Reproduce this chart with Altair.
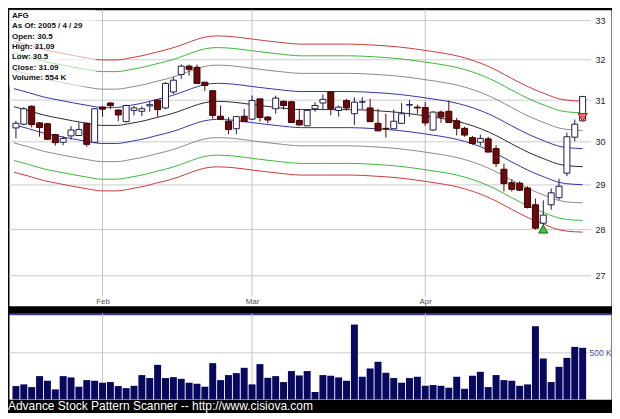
import altair as alt
import numpy as np
import pandas as pd

# ---------------- data ----------------
opens = [30.33, 30.42, 30.85, 30.45, 30.43, 30.17, 29.99, 30.14, 30.15, 30.44,
         29.99, 30.83, 30.93, 30.76, 30.48, 30.75, 30.73, 30.86, 31.00, 30.81,
         31.20, 31.63, 31.84, 31.81, 31.44, 31.23, 30.61, 30.49, 30.31, 30.61,
         30.54, 31.03, 30.59, 30.79, 30.97, 30.96, 30.51, 30.38, 30.79, 30.93,
         31.20, 30.75, 30.99, 30.67, 30.95, 30.81, 30.44, 30.32, 30.31, 30.44,
         30.88, 30.83, 30.82, 30.28, 30.71, 30.73, 30.50, 30.32, 30.10, 29.99,
         30.07, 29.84, 29.36, 29.05, 29.04, 28.93, 28.55, 28.14, 28.55, 28.71,
         29.27, 30.11, 30.50]
closes = [30.44, 30.79, 30.41, 30.34, 30.06, 29.98, 30.08, 30.28, 30.29, 29.94,
          30.79, 30.78, 30.87, 30.64, 30.87, 30.81, 30.79, 30.89, 30.77, 31.41,
          31.49, 31.84, 31.76, 31.41, 31.36, 30.63, 30.54, 30.29, 30.60, 30.48,
          30.99, 30.58, 30.52, 31.05, 30.87, 30.46, 30.40, 30.75, 30.87, 31.02,
          30.79, 30.83, 30.81, 30.95, 30.96, 30.48, 30.26, 30.31, 30.49, 30.67,
          30.89, 30.81, 30.45, 30.71, 30.59, 30.46, 30.32, 30.16, 29.96, 30.08,
          29.76, 29.49, 29.03, 28.90, 28.88, 28.49, 28.03, 28.32, 28.82, 28.97,
          30.12, 30.42, 31.09]
highs = [30.50, 30.83, 30.87, 30.47, 30.45, 30.19, 30.13, 30.37, 30.46, 30.46,
         30.80, 30.85, 30.95, 30.77, 30.89, 30.86, 30.85, 30.97, 31.02, 31.44,
         31.57, 31.88, 31.88, 31.88, 31.45, 31.25, 30.87, 30.59, 30.61, 30.79,
         31.11, 31.04, 30.61, 31.11, 30.99, 30.98, 30.79, 30.77, 30.95, 31.14,
         31.21, 30.87, 31.03, 31.07, 31.07, 31.03, 30.79, 30.67, 30.77, 30.93,
         31.00, 30.89, 30.95, 30.73, 30.75, 30.99, 30.57, 30.36, 30.14, 30.17,
         30.12, 29.92, 29.49, 29.13, 29.08, 28.97, 28.69, 28.65, 28.92, 29.14,
         30.22, 30.53, 31.09]
lows = [30.08, 30.39, 30.34, 30.12, 30.04, 29.91, 29.92, 30.05, 30.14, 29.88,
        29.98, 30.60, 30.78, 30.49, 30.46, 30.63, 30.61, 30.72, 30.60, 30.78,
        31.15, 31.52, 31.60, 31.40, 31.22, 30.55, 30.53, 30.18, 30.18, 30.47,
        30.52, 30.48, 30.44, 30.67, 30.77, 30.45, 30.39, 30.37, 30.72, 30.76,
        30.63, 30.60, 30.75, 30.40, 30.78, 30.47, 30.25, 30.10, 30.30, 30.42,
        30.60, 30.67, 30.38, 30.26, 30.45, 30.45, 30.15, 30.12, 29.93, 29.91,
        29.75, 29.41, 28.85, 28.85, 28.86, 28.47, 28.00, 28.10, 28.44, 28.66,
        29.20, 30.01, 30.50]
volumes_k = [143, 161, 132, 250, 200, 107, 250, 236, 136, 207,
             200, 179, 186, 143, 121, 146, 261, 229, 371, 229,
             239, 221, 179, 168, 136, 389, 207, 261, 282, 339,
             161, 379, 232, 250, 186, 304, 257, 304, 79, 261,
             254, 236, 200, 804, 243, 332, 404, 286, 229, 179,
             229, 243, 146, 154, 146, 125, 243, 114, 254, 296,
             132, 261, 207, 200, 146, 161, 786, 439, 186, 350,
             446, 564, 554]

# centre line of the envelope (trading-day index, price)
center_idx = [-0.25, 1.6, 3.5, 5.3, 7.2, 9.0, 10.9, 12.8, 14.6, 16.5,
              17.7, 19.0, 20.6, 22.3, 23.9, 25.5, 27.6, 30.1, 33.2, 36.3,
              39.4, 42.5, 45.6, 48.7, 51.2, 53.7, 55.5, 57.0, 59.2, 61.1,
              63.0, 65.2, 67.3, 69.1, 70.8, 72.0]
center_val = [30.84, 30.745, 30.64, 30.57, 30.50, 30.44, 30.39, 30.39, 30.44, 30.51,
              30.57, 30.63, 30.72, 30.84, 30.935, 30.97, 30.95, 30.89, 30.82, 30.77,
              30.77, 30.77, 30.745, 30.70, 30.64, 30.57, 30.51, 30.44, 30.30, 30.14,
              29.95, 29.745, 29.585, 29.47, 29.43, 29.42]
# envelope bands: log offset from the centre line
band_keys = ["r+", "g+", "k+", "b+", "c", "b-", "k-", "g-", "r-"]
band_shift = [0.0515, 0.0423, 0.0285, 0.0142, 0.0, -0.0142, -0.0285, -0.0423, -0.0515]
band_colors = ["#cc3b3b", "#3cb83c", "#8a8a8a", "#3434a8", "#2a2a2a",
               "#3434a8", "#8a8a8a", "#3cb83c", "#cc3b3b"]

buy_idx = [67]
buy_price = [28.01]
sell_idx = [72]
sell_price = [30.58]

month_idx = [11, 30, 52]
month_names = ["Feb", "Mar", "Apr"]
price_ticks = [27, 28, 29, 30, 31, 32, 33]
vol_ticks = [500]

info_lines = ["AFG", "As Of: 2005 / 4 / 29", "Open: 30.5", "High: 31.09",
              "Low: 30.5", "Close: 31.09", "Volume: 554 K"]
footer = "Advance Stock Pattern Scanner -- http://www.cisiova.com"

# ---------------- tables ----------------
candles = pd.DataFrame({"i": list(range(len(opens))), "open": opens, "high": highs,
                        "low": lows, "close": closes, "vol": volumes_k})
candles["dir"] = np.where(candles["close"] >= candles["open"], "up", "down")

band_rows = []
for k, s in zip(band_keys, band_shift):
    for ci, cv in zip(center_idx, center_val):
        band_rows.append({"band": k, "i": ci, "v": cv * float(np.exp(s))})
bands_df = pd.DataFrame(band_rows)

buys = pd.DataFrame({"i": buy_idx, "v": buy_price})
sells = pd.DataFrame({"i": sell_idx, "v": sell_price})
months = pd.DataFrame({"i": month_idx})
pticks = pd.DataFrame({"v": price_ticks})
vticks = pd.DataFrame({"vol": vol_ticks})

# ---------------- layout ----------------
W = 604
H1 = 297
H2 = 86
FONT = "Liberation Sans"

xs = alt.Scale(domain=[-0.249, 74.97], nice=False, zero=False)
ys = alt.Scale(type="log", domain=[26.3724, 33.286], nice=False)
vys = alt.Scale(domain=[0, 921], nice=False)

label_expr = " : ".join(f"datum.value == {m} ? '{n}'" for m, n in zip(month_idx, month_names)) + " : ''"

x_axis_top = alt.Axis(values=month_idx, labelExpr=label_expr, orient="bottom", offset=-8,
                      grid=False, domain=False, ticks=False, tickSize=0, labelPadding=0,
                      labelFontSize=8, labelColor="#555555", labelFont=FONT, title=None,
                      labelFlush=False, labelOverlap=False)
y_axis = alt.Axis(orient="right", values=price_ticks, format="d", offset=-16, labelPadding=0,
                  domain=False, ticks=False, tickSize=0, grid=False, labelFontSize=9,
                  labelColor="#222222", labelFont=FONT, title=None, labelFlush=False,
                  labelOverlap=False)

X = alt.X("i:Q", scale=xs, axis=x_axis_top)


def Y(field):
    return alt.Y(field, type="quantitative", scale=ys, axis=y_axis)


hgrid = alt.Chart(pticks).mark_rule(color="#cccccc", strokeWidth=1).encode(
    y=Y("v"), x=alt.value(0), x2=alt.value(584))
vgrid = alt.Chart(months).mark_rule(color="#c4c4c4", strokeWidth=1).encode(
    x=X, y=alt.value(0), y2=alt.value(288))

band_lines = alt.Chart(bands_df).mark_line(strokeWidth=1, interpolate="monotone", clip=True).encode(
    x=X, y=Y("v"),
    color=alt.Color("band:N", scale=alt.Scale(domain=band_keys, range=band_colors), legend=None),
    detail="band:N")

# translucent panel behind the info text (fades the lines there)
info_box = alt.Chart(pd.DataFrame({"a": [0]})).mark_rect(
    color="#ffffff", opacity=0.6).encode(
    x=alt.value(0), x2=alt.value(87), y=alt.value(0), y2=alt.value(77))

wicks = alt.Chart(candles).mark_rule(strokeWidth=1).encode(
    x=X, y=Y("low"), y2="high:Q",
    stroke=alt.Stroke("dir:N", scale=alt.Scale(domain=["up", "down"], range=["#1c1c50", "#5a0505"]),
                      legend=None))

bodies = alt.Chart(candles).mark_bar(size=6, strokeWidth=1).encode(
    x=X, y=Y("open"), y2="close:Q",
    fill=alt.Fill("dir:N", scale=alt.Scale(domain=["up", "down"], range=["#ffffff", "#6a0a0a"]),
                  legend=None),
    stroke=alt.Stroke("dir:N", scale=alt.Scale(domain=["up", "down"], range=["#1c1c50", "#3a0000"]),
                      legend=None))

buy_mark = alt.Chart(buys).mark_point(shape="triangle-up", filled=True, size=85, strokeWidth=1,
                                      fill="#3ccc3c", stroke="#136613", opacity=1).encode(
    x=X, y=Y("v"))
sell_mark = alt.Chart(sells).mark_point(shape="triangle-down", filled=True, size=85, strokeWidth=1,
                                        fill="#e86a6a", stroke="#a82020", opacity=1).encode(
    x=X, y=Y("v"))

info = alt.Chart(pd.DataFrame({"a": [0]})).mark_text(
    align="left", baseline="top", fontSize=8, fontWeight="bold", lineHeight=10.5,
    font=FONT, color="#111111").encode(
    x=alt.value(3), y=alt.value(2), text=alt.value(info_lines))

upper = alt.layer(hgrid, vgrid, band_lines, info_box, wicks, bodies, buy_mark, sell_mark, info).resolve_scale(
    color="independent", fill="independent", stroke="independent"
).properties(width=W, height=H1)

vol_x_axis = alt.Axis(orient="top", labels=False, ticks=False, grid=False, domain=True,
                      domainColor="#3b3ba6", domainWidth=2, title=None, values=month_idx)
vol_y_axis = alt.Axis(orient="right", values=vol_ticks, labelExpr="format(datum.value, 'd') + ' K'",
                      offset=-22, labelPadding=0, domain=False, ticks=False, tickSize=0, grid=False,
                      labelFontSize=8.5, labelColor="#4a4aa8", labelFont=FONT, title=None,
                      labelFlush=False, labelOverlap=False)

VX = alt.X("i:Q", scale=xs, axis=vol_x_axis)
VY = alt.Y("vol:Q", scale=vys, axis=vol_y_axis)

vgrid2 = alt.Chart(months).mark_rule(color="#c4c4c4", strokeWidth=1).encode(
    x=VX, y=alt.value(0), y2=alt.value(H2))
vline500 = alt.Chart(vticks).mark_rule(color="#cccccc", strokeWidth=1).encode(
    y=VY, x=alt.value(0), x2=alt.value(582))
vbars = alt.Chart(candles).mark_bar(size=7, color="#08085e").encode(x=VX, y=VY)

lower = alt.layer(vgrid2, vline500, vbars).properties(width=W, height=H2)

chart = alt.vconcat(upper, lower, spacing=6).properties(
    padding=0,
    background="#000000",
    title=alt.TitleParams(footer, orient="bottom", anchor="start", color="#ffffff", fontSize=12,
                          font=FONT, fontWeight="normal", offset=1, baseline="top"),
).configure_view(fill="#ffffff", stroke="transparent")

chart.save("out.html", embed_options={"renderer": "svg", "actions": False})
